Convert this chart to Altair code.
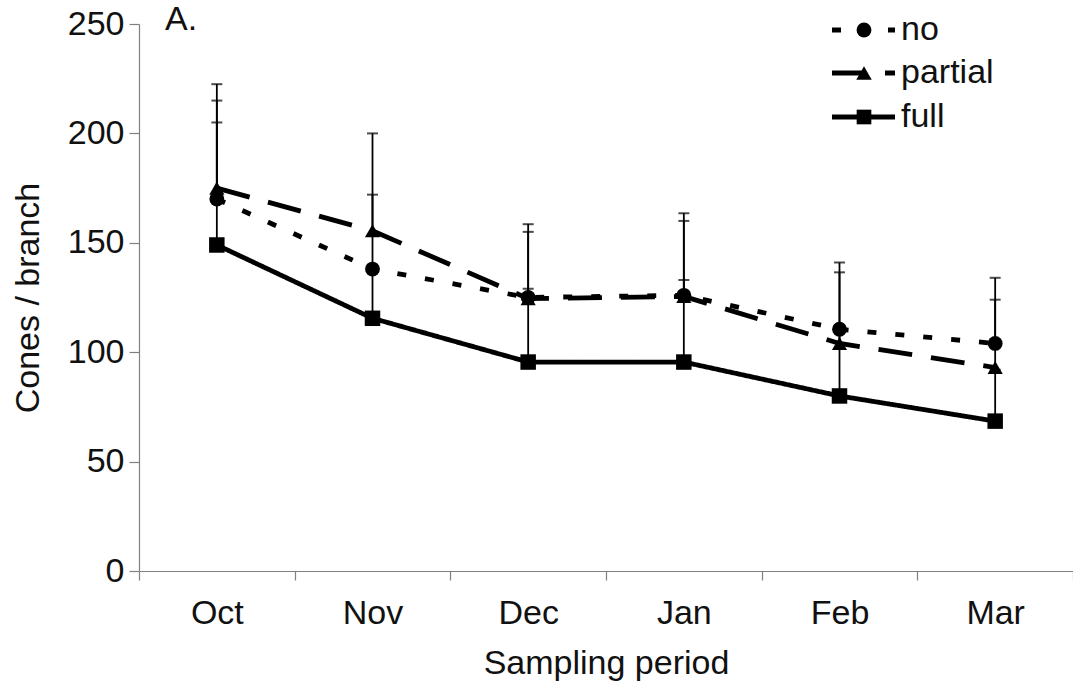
import altair as alt
import pandas as pd

# Sampling months and cone counts per branch for the three treatments
months = ["Oct", "Nov", "Dec", "Jan", "Feb", "Mar"]
treatments = ["no", "partial", "full"]

no_mean = [170, 138, 125, 126, 110.5, 104]
no_upper = [215, 172, 155, 160, 136.5, 134]

partial_mean = [175, 155.5, 124.5, 125.5, 104, 93]
partial_upper = [222.5, 200, 158.5, 163.5, 141, 124]

full_mean = [149, 115.5, 95.5, 95.5, 80, 68.5]
full_upper = [205, 137, 129, 133, 109, 92]

y_ticks = [0, 50, 100, 150, 200, 250]

means = {"no": no_mean, "partial": partial_mean, "full": full_mean}
uppers = {"no": no_upper, "partial": partial_upper, "full": full_upper}

rows = []
for t in treatments:
    for m, v, u in zip(months, means[t], uppers[t]):
        rows.append({"month": m, "treatment": t, "cones": v, "upper": u})
df = pd.DataFrame(rows)

FONT = "Liberation Sans"
FS = 34
W, H = 934, 547
LW = 4.8

dash_scale = alt.Scale(domain=treatments, range=[[9, 19], [34, 19], [1, 0]])
shape_scale = alt.Scale(domain=treatments, range=["circle", "triangle-up", "square"])
size_scale = alt.Scale(domain=treatments, range=[220, 240, 215])

x_enc = alt.X(
    "month:N",
    sort=months,
    bandPosition=0.5,
    scale=alt.Scale(type="band", paddingInner=0, paddingOuter=0),
    axis=alt.Axis(
        title="Sampling period",
        tickBand="extent",
        labelAngle=0,
        tickSize=9,
        labelPadding=16,
        titlePadding=16,
    ),
)
y_enc = alt.Y(
    "cones:Q",
    scale=alt.Scale(domain=[0, 250], nice=False),
    axis=alt.Axis(title="Cones / branch", values=y_ticks, tickSize=10,
                  labelPadding=5, titlePadding=22),
)

base = alt.Chart(df)

err = base.mark_rule(color="black", strokeWidth=1.8).encode(
    x=x_enc, y=y_enc, y2="upper:Q", detail="treatment:N"
)
caps = base.mark_tick(color="black", size=11, thickness=2).encode(
    x=x_enc, y=alt.Y("upper:Q"), detail="treatment:N"
)
lines = base.mark_line(color="black", strokeWidth=LW).encode(
    x=x_enc,
    y=y_enc,
    strokeDash=alt.StrokeDash("treatment:N", scale=dash_scale, legend=None),
)
points = base.mark_point(color="black", filled=True, opacity=1).encode(
    x=x_enc,
    y=y_enc,
    shape=alt.Shape("treatment:N", scale=shape_scale, legend=None),
    size=alt.Size("treatment:N", scale=size_scale, legend=None),
)

# Hand-placed key in the upper right corner
leg_y = [6, 49, 93]
leg_x0, leg_x1, leg_mark, leg_text = 693, 756, 725, 762
dashes = {"no": [9, 19], "partial": [34, 19], "full": [1, 0]}
shapes = {"no": "circle", "partial": "triangle-up", "full": "square"}
sizes = {"no": 220, "partial": 240, "full": 215}
key_layers = []
for t, yy in zip(treatments, leg_y):
    kd = pd.DataFrame({"label": [t]})
    kc = alt.Chart(kd)
    key_layers.append(
        kc.mark_rule(color="black", strokeWidth=LW, strokeDash=dashes[t]).encode(
            x=alt.value(leg_x0), x2=alt.value(leg_x1), y=alt.value(yy)
        )
    )
    key_layers.append(
        kc.mark_point(color="black", filled=True, opacity=1, shape=shapes[t],
                      size=sizes[t]).encode(x=alt.value(leg_mark), y=alt.value(yy))
    )
    key_layers.append(
        kc.mark_text(align="left", baseline="middle", font=FONT, fontSize=FS,
                     color="#111").encode(
            x=alt.value(leg_text), y=alt.value(yy), text="label:N"
        )
    )

panel = alt.Chart(pd.DataFrame({"label": ["A."]})).mark_text(
    align="left", baseline="middle", font=FONT, fontSize=FS, color="#111"
).encode(x=alt.value(26), y=alt.value(-4), text="label:N")

chart = (
    alt.layer(err, caps, lines, points, panel, *key_layers)
    .properties(
        width=W,
        height=H,
        autosize=alt.AutoSizeParams(type="none"),
        padding={"left": 139, "top": 24, "right": 0, "bottom": 120},
        background="white",
    )
    .configure_view(stroke=None)
    .configure_axis(
        grid=False,
        domainColor="#808080",
        tickColor="#808080",
        domainWidth=1.2,
        tickWidth=1.2,
        labelFont=FONT,
        titleFont=FONT,
        labelFontSize=FS,
        titleFontSize=FS,
        labelColor="#111",
        titleColor="#111",
        titleFontWeight="normal",
    )
)

chart.save("out.html", embed_options={"renderer": "svg", "actions": False})
